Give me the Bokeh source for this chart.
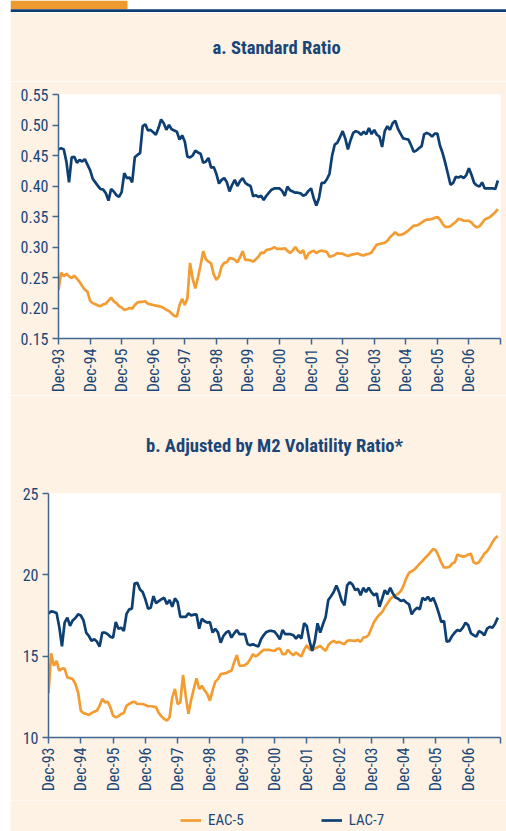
import math
from bokeh.plotting import figure
from bokeh.models import FixedTicker, Legend, LegendItem, NumeralTickFormatter, Range1d
from bokeh.layouts import column, row
from bokeh.embed import file_html
from bokeh.resources import INLINE

# ---------------- data (monthly, Dec-93 onwards) ----------------
tick_labels = ["Dec-93", "Dec-94", "Dec-95", "Dec-96", "Dec-97", "Dec-98", "Dec-99",
               "Dec-00", "Dec-01", "Dec-02", "Dec-03", "Dec-04", "Dec-05", "Dec-06"]

a_lac7 = [0.460, 0.462, 0.460, 0.440, 0.406, 0.447, 0.448, 0.438, 0.443, 0.440,
          0.444, 0.435, 0.426, 0.412, 0.406, 0.400, 0.395, 0.394, 0.388, 0.376,
          0.395, 0.391, 0.385, 0.382, 0.390, 0.421, 0.413, 0.414, 0.406, 0.447,
          0.451, 0.454, 0.498, 0.501, 0.491, 0.492, 0.488, 0.484, 0.495, 0.509,
          0.503, 0.492, 0.500, 0.493, 0.491, 0.489, 0.476, 0.483, 0.473, 0.448,
          0.447, 0.450, 0.458, 0.455, 0.453, 0.438, 0.440, 0.446, 0.430, 0.431,
          0.420, 0.404, 0.410, 0.413, 0.406, 0.391, 0.402, 0.410, 0.400, 0.408,
          0.413, 0.405, 0.402, 0.400, 0.383, 0.385, 0.382, 0.384, 0.377, 0.384,
          0.389, 0.394, 0.396, 0.396, 0.396, 0.392, 0.384, 0.399, 0.393, 0.391,
          0.389, 0.389, 0.388, 0.384, 0.386, 0.392, 0.396, 0.380, 0.368, 0.380,
          0.405, 0.405, 0.411, 0.420, 0.450, 0.468, 0.471, 0.480, 0.490, 0.478,
          0.460, 0.475, 0.487, 0.490, 0.488, 0.484, 0.489, 0.485, 0.495, 0.485,
          0.492, 0.484, 0.481, 0.464, 0.490, 0.498, 0.492, 0.503, 0.507, 0.494,
          0.486, 0.478, 0.477, 0.476, 0.467, 0.456, 0.458, 0.462, 0.465, 0.485,
          0.487, 0.485, 0.481, 0.486, 0.486, 0.466, 0.454, 0.438, 0.420, 0.402,
          0.405, 0.415, 0.414, 0.416, 0.413, 0.418, 0.429, 0.418, 0.405, 0.401,
          0.399, 0.406, 0.396, 0.396, 0.396, 0.396, 0.395, 0.409]

a_eac5 = [0.230, 0.258, 0.252, 0.256, 0.252, 0.249, 0.253, 0.248, 0.243, 0.236,
          0.230, 0.227, 0.212, 0.208, 0.206, 0.204, 0.203, 0.206, 0.207, 0.212,
          0.217, 0.211, 0.208, 0.203, 0.201, 0.197, 0.198, 0.200, 0.199, 0.205,
          0.209, 0.210, 0.210, 0.211, 0.207, 0.206, 0.205, 0.204, 0.203, 0.202,
          0.200, 0.197, 0.195, 0.191, 0.187, 0.186, 0.205, 0.215, 0.205, 0.216,
          0.274, 0.248, 0.232, 0.250, 0.270, 0.293, 0.280, 0.276, 0.273, 0.255,
          0.246, 0.252, 0.268, 0.274, 0.275, 0.282, 0.281, 0.279, 0.275, 0.283,
          0.293, 0.279, 0.279, 0.278, 0.276, 0.280, 0.284, 0.291, 0.290, 0.295,
          0.296, 0.297, 0.300, 0.297, 0.297, 0.297, 0.298, 0.294, 0.290, 0.294,
          0.300, 0.294, 0.290, 0.295, 0.280, 0.289, 0.292, 0.294, 0.290, 0.293,
          0.294, 0.293, 0.292, 0.284, 0.285, 0.287, 0.290, 0.289, 0.289, 0.287,
          0.285, 0.287, 0.288, 0.289, 0.289, 0.287, 0.286, 0.288, 0.289, 0.291,
          0.298, 0.304, 0.305, 0.306, 0.307, 0.310, 0.316, 0.320, 0.324, 0.320,
          0.320, 0.321, 0.324, 0.327, 0.331, 0.335, 0.335, 0.337, 0.340, 0.343,
          0.345, 0.345, 0.346, 0.348, 0.349, 0.345, 0.338, 0.333, 0.333, 0.334,
          0.338, 0.341, 0.346, 0.345, 0.343, 0.343, 0.343, 0.340, 0.335, 0.332,
          0.334, 0.339, 0.345, 0.347, 0.349, 0.353, 0.357, 0.362]

b_lac7 = [17.63, 17.75, 17.72, 17.65, 16.80, 15.60, 17.06, 17.37, 16.86, 17.20,
          17.35, 17.57, 17.50, 17.20, 16.45, 16.24, 15.95, 16.04, 15.90, 15.59,
          16.45, 16.45, 16.35, 16.20, 16.14, 17.10, 16.69, 16.75, 16.55, 17.60,
          17.88, 17.92, 19.47, 19.51, 19.10, 18.94, 18.49, 17.92, 17.98, 18.69,
          18.25, 18.39, 18.50, 18.59, 18.20, 18.45, 18.04, 18.55, 18.33, 17.41,
          17.41, 17.41, 17.63, 17.51, 17.55, 17.57, 16.69, 17.30, 17.15, 17.06,
          17.10, 16.45, 16.69, 16.45, 15.83, 16.24, 16.45, 16.55, 16.14, 16.40,
          16.61, 16.35, 16.35, 16.35, 15.74, 15.67, 15.74, 15.65, 15.59, 16.04,
          16.30, 16.49, 16.55, 16.55, 16.51, 16.30, 16.04, 16.61, 16.35, 16.35,
          16.35, 16.29, 16.08, 16.29, 16.08, 17.02, 16.86, 15.94, 15.33, 15.94,
          17.02, 16.45, 16.96, 17.40, 18.45, 18.69, 18.94, 19.35, 18.94, 18.39,
          18.12, 19.35, 19.55, 19.40, 19.06, 19.14, 18.74, 19.20, 18.94, 19.20,
          18.94, 18.74, 18.86, 18.04, 18.53, 19.06, 18.80, 19.20, 18.86, 18.60,
          18.53, 18.39, 18.45, 18.30, 18.18, 17.57, 17.83, 17.98, 17.88, 18.59,
          18.45, 18.65, 18.39, 18.59, 18.18, 17.67, 17.10, 17.16, 15.88, 15.94,
          16.24, 16.45, 16.61, 16.55, 16.75, 17.06, 16.90, 16.41, 16.29, 16.20,
          16.55, 16.45, 16.29, 16.69, 16.81, 16.75, 17.00, 17.37]

b_eac5 = [12.73, 15.18, 14.41, 14.71, 14.10, 14.24, 14.24, 13.69, 13.65, 13.59,
          13.29, 12.77, 11.65, 11.50, 11.45, 11.39, 11.50, 11.59, 11.65, 11.96,
          12.37, 12.16, 12.20, 11.85, 11.34, 11.24, 11.30, 11.45, 11.51, 11.96,
          12.06, 12.16, 12.20, 12.06, 12.06, 12.06, 12.00, 11.92, 11.92, 11.90,
          11.85, 11.50, 11.30, 11.14, 11.04, 11.24, 12.47, 12.98, 12.06, 12.16,
          13.84, 12.57, 11.45, 12.30, 12.98, 13.63, 12.98, 13.18, 12.90, 12.67,
          12.26, 12.90, 13.43, 13.59, 13.90, 13.93, 13.96, 14.05, 14.10, 14.61,
          15.06, 14.41, 14.41, 14.45, 14.57, 14.82, 15.12, 14.98, 15.10, 15.26,
          15.39, 15.39, 15.39, 15.35, 15.33, 15.45, 15.47, 15.12, 15.12, 15.39,
          15.20, 15.06, 15.22, 15.10, 14.98, 15.39, 15.67, 15.43, 15.39, 15.47,
          15.55, 15.63, 15.47, 15.33, 15.67, 15.85, 15.94, 15.83, 15.88, 15.80,
          15.74, 15.94, 15.98, 15.95, 15.94, 16.00, 15.88, 16.14, 16.18, 16.30,
          16.70, 17.10, 17.35, 17.55, 17.71, 18.00, 18.25, 18.50, 18.65, 18.74,
          18.85, 19.00, 19.35, 19.80, 20.12, 20.22, 20.33, 20.50, 20.69, 20.85,
          21.04, 21.20, 21.40, 21.59, 21.50, 21.14, 20.75, 20.45, 20.45, 20.49,
          20.69, 20.77, 21.25, 21.18, 21.12, 21.15, 21.25, 21.30, 20.77, 20.69,
          20.77, 21.04, 21.30, 21.45, 21.70, 22.00, 22.25, 22.38]

a_yticks = [0.15, 0.20, 0.25, 0.30, 0.35, 0.40, 0.45, 0.50, 0.55]
b_yticks = [10, 15, 20, 25]
series_names = ["EAC-5", "LAC-7"]

months = list(range(len(a_lac7)))
x_ticks = [12 * i for i in range(len(tick_labels) + 1)]
x_overrides = {t: (tick_labels[i] if i < len(tick_labels) else "") for i, t in enumerate(x_ticks)}

# ---------------- style ----------------
FONT = "Liberation Sans Narrow, Roboto Condensed, DejaVu Sans Condensed, sans-serif"
CREAM = "#FDF2E4"
NAVY_TXT = "#1A4677"
NAVY = "#0E3F72"
ORANGE = "#F29C32"
AXIS = "#41668F"
LW = 2.7
W = 496            # width of the cream column (a 10px white strip sits to its left)
TITLE_SIZE = "18.6px"


def bare(p, bg):
    p.grid.visible = False
    p.outline_line_color = None
    p.background_fill_color = bg
    p.border_fill_color = bg
    p.frame_align = False


def style_title(t):
    t.text_font = FONT
    t.text_font_size = TITLE_SIZE
    t.text_font_style = "bold"
    t.text_color = NAVY_TXT


def style(p, yticks, fmt):
    p.frame_align = False
    p.xgrid.visible = False
    p.ygrid.visible = False
    p.outline_line_color = None
    p.background_fill_color = "white"
    p.border_fill_color = CREAM
    p.xaxis.ticker = FixedTicker(ticks=x_ticks)
    p.xaxis.major_label_overrides = x_overrides
    p.xaxis.major_label_orientation = math.pi / 2
    p.yaxis.ticker = FixedTicker(ticks=yticks)
    if fmt:
        p.yaxis.formatter = NumeralTickFormatter(format=fmt)
    for ax in (p.xaxis[0], p.yaxis[0]):
        ax.axis_line_color = AXIS
        ax.axis_line_width = 1.5
        ax.major_tick_line_color = AXIS
        ax.major_tick_line_width = 1.5
        ax.major_tick_out = 6
        ax.major_tick_in = 0
        ax.minor_tick_out = 0
        ax.minor_tick_in = 0
        ax.major_label_text_font = FONT
        ax.major_label_text_font_size = "16px"
        ax.major_label_text_color = NAVY_TXT
        ax.major_label_standoff = 4


# white strip on the far left
strip = figure(width=10, height=831, x_axis_location=None, y_axis_location=None,
               output_backend="svg", toolbar_location=None,
               min_border_left=0, min_border_right=0, min_border_top=0, min_border_bottom=0)
bare(strip, "white")

# header strip (orange tab over navy rule) carrying title a below it
hdr = figure(width=W, height=81, x_range=Range1d(0, W), y_range=Range1d(0, 13),
             title="a. Standard Ratio", title_location="below",
             x_axis_location=None, y_axis_location=None,
             output_backend="svg", toolbar_location=None,
             min_border_left=0, min_border_right=0, min_border_top=0, min_border_bottom=68)
bare(hdr, "white")
hdr.border_fill_color = CREAM
hdr.quad(left=[0], right=[117], bottom=[3.5], top=[13], fill_color="#EF9A30", line_color=None)
hdr.quad(left=[0], right=[W], bottom=[0.5], top=[3.5], fill_color="#0F3F72", line_color=None)
style_title(hdr.title)
hdr.title.align = "left"
hdr.title.offset = 202
hdr.title.standoff = 45

p1 = figure(width=W, height=314,
            x_range=Range1d(0, 168), y_range=Range1d(0.15, 0.55),
            output_backend="svg", toolbar_location=None,
            min_border_left=48, min_border_right=6, min_border_top=13, min_border_bottom=56)
style(p1, a_yticks, "0.00")
p1.line(months, a_eac5, line_color=ORANGE, line_width=LW)
p1.line(months, a_lac7, line_color=NAVY, line_width=LW)

p2 = figure(width=W, height=405, title="b. Adjusted by M2 Volatility Ratio*",
            x_range=Range1d(0, 168), y_range=Range1d(10, 25),
            output_backend="svg", toolbar_location=None,
            min_border_left=38, min_border_right=6, min_border_top=97, min_border_bottom=63)
style(p2, b_yticks, None)
style_title(p2.title)
p2.title.align = "center"
p2.title.standoff = 74
p2.line(months, b_eac5, line_color=ORANGE, line_width=LW)
p2.line(months, b_lac7, line_color=NAVY, line_width=LW)

# legend strip: same two series, view window set off the data so only the legend shows
lf = figure(width=W, height=31, x_range=Range1d(-20, -10), y_range=Range1d(0, 1),
            x_axis_location=None, y_axis_location=None,
            output_backend="svg", toolbar_location=None,
            min_border_left=0, min_border_right=0, min_border_top=0, min_border_bottom=0)
bare(lf, CREAM)
le = lf.line(months, b_eac5, line_color=ORANGE, line_width=LW)
ll = lf.line(months, b_lac7, line_color=NAVY, line_width=LW)
legend = Legend(items=[LegendItem(label=series_names[0], renderers=[le]),
                       LegendItem(label=series_names[1], renderers=[ll])],
                orientation="horizontal", location=(170, 1),
                label_text_font=FONT, label_text_font_size="15px", label_text_color=NAVY_TXT,
                glyph_width=21, label_standoff=7, spacing=77,
                background_fill_alpha=0, border_line_alpha=0, margin=0, padding=0)
lf.add_layout(legend, "center")

layout = row(strip, column(hdr, p1, p2, lf, spacing=0), spacing=0)
open("out.html", "w").write(file_html(layout, INLINE))
